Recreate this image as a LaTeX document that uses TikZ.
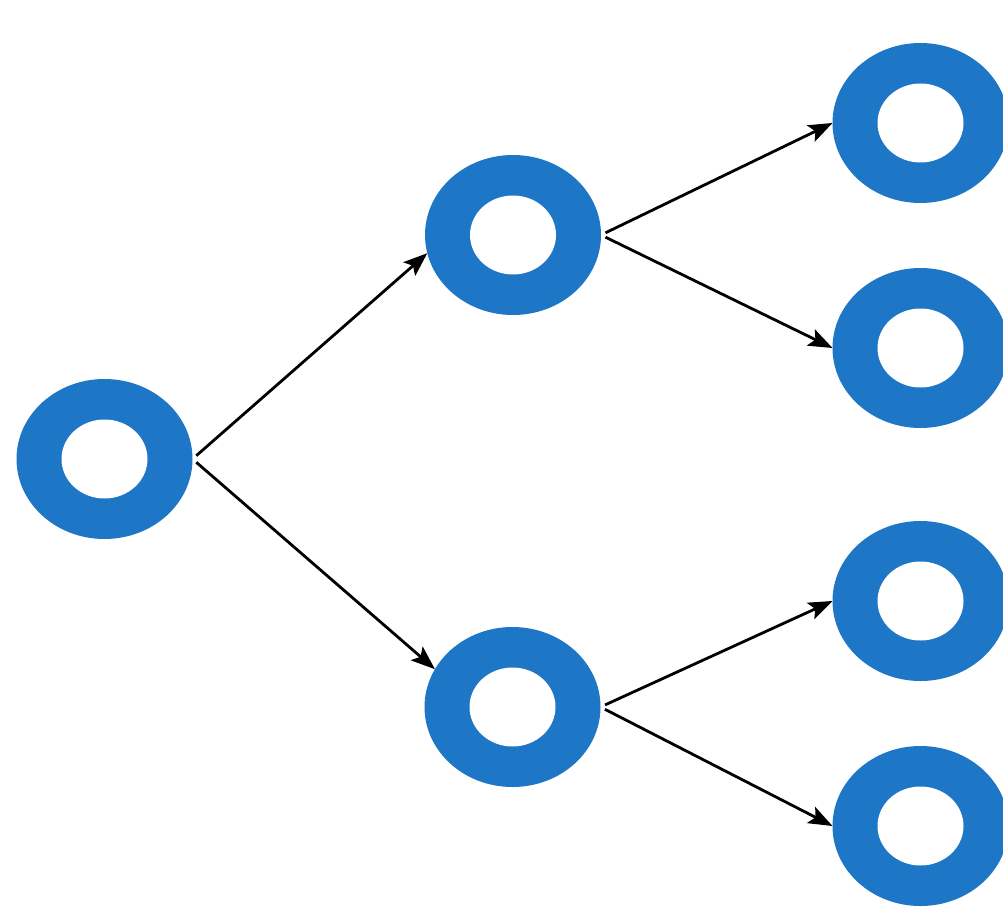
\documentclass[tikz,border=0pt]{standalone}
\usetikzlibrary{shapes.geometric,arrows.meta}
\definecolor{ringblue}{RGB}{30,118,198}
\tikzset{
  ring/.style={ellipse, fill=ringblue, inner sep=0pt, outer sep=0pt, minimum width=176pt, minimum height=160pt},
  hole/.style={ellipse, fill=white, inner sep=0pt, outer sep=0pt, minimum width=86pt, minimum height=79pt},
  link/.style={line width=2.8pt, black, shorten <=5pt, -{Stealth[length=24pt,width=18pt,inset=5pt]}}
}
\begin{document}
\begin{tikzpicture}[x=1pt,y=-1pt]
\useasboundingbox (0,0) rectangle (1003,920);
\fill[white] (0,0) rectangle (1003,920);
% rings
\node[ring] (L)  at (104.5,459) {};
\node[ring] (MT) at (513,235) {};
\node[ring] (MB) at (512.5,707) {};
\node[ring] (R1) at (920.5,123) {};
\node[ring] (R2) at (920.5,348) {};
\node[ring] (R3) at (920.5,601) {};
\node[ring] (R4) at (920.5,826) {};
% holes
\node[hole] (hL)  at (L)  {};
\node[hole] (hMT) at (MT) {};
\node[hole] (hMB) at (MB) {};
\node[hole] (hR1) at (R1) {};
\node[hole] (hR2) at (R2) {};
\node[hole] (hR3) at (R3) {};
\node[hole] (hR4) at (R4) {};
% connectors
\draw[link] (L.east) -- (MT.192);
\draw[link] (L.east) -- (MB.154);
\draw[link] (MT.east) -- (R1.west);
\draw[link] (MT.east) -- (R2.west);
\draw[link] (MB.east) -- (R3.west);
\draw[link] (MB.east) -- (R4.west);
\end{tikzpicture}
\end{document}
